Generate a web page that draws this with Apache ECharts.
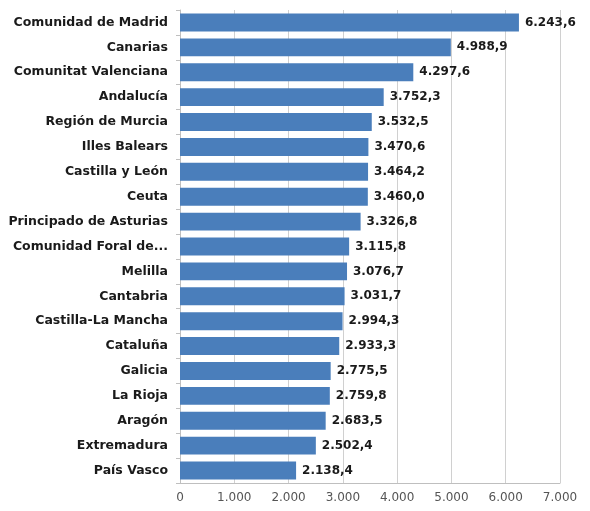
<!DOCTYPE html>
<html><head><meta charset="utf-8">
<script src="https://cdn.jsdelivr.net/npm/echarts@6/dist/echarts.min.js"></script>
<style>html,body{margin:0;padding:0;background:#fff}#c{width:590px;height:511px}</style>
</head><body><div id="c"></div>
<script>
const categories = ["Comunidad de Madrid","Canarias","Comunitat Valenciana","Andalucía","Región de Murcia","Illes Balears","Castilla y León","Ceuta","Principado de Asturias","Comunidad Foral de Navarra","Melilla","Cantabria","Castilla-La Mancha","Cataluña","Galicia","La Rioja","Aragón","Extremadura","País Vasco"];
const values = [6243.6,4988.9,4297.6,3752.3,3532.5,3470.6,3464.2,3460.0,3326.8,3115.8,3076.7,3031.7,2994.3,2933.3,2775.5,2759.8,2683.5,2502.4,2138.4];
const xTicks = [0,1000,2000,3000,4000,5000,6000,7000];

function fmt(v, dec){
  const parts = v.toFixed(dec).split('.');
  parts[0] = parts[0].replace(/\B(?=(\d{3})+(?!\d))/g, '.');
  return parts.join(',');
}
const chart = echarts.init(document.getElementById('c'));
chart.setOption({
  animation:false,
  grid:{left:180,right:30,top:10,bottom:28},
  xAxis:{type:'value',min:xTicks[0],max:xTicks[xTicks.length-1],interval:1000,
    axisLine:{show:true,lineStyle:{color:'#bfbfbf'}},axisTick:{show:false},
    splitLine:{lineStyle:{color:'#d0d0d0'}},
    axisLabel:{color:'#555',fontFamily:'DejaVu Sans',fontSize:12,margin:9,formatter:v=>fmt(v,0)}},
  yAxis:{type:'category',inverse:true,data:categories,
    axisLine:{show:true,lineStyle:{color:'#bfbfbf'}},
    axisTick:{show:true,length:4,lineStyle:{color:'#bfbfbf'}},
    axisLabel:{color:'#1a1a1a',fontFamily:'DejaVu Sans',fontWeight:'bold',fontSize:12.5,margin:12,
      width:163,overflow:'truncate',ellipsis:'...'}},
  series:[{type:'bar',data:values,barCategoryGap:'28%',
    itemStyle:{color:'#4a7ebb'},
    label:{show:true,position:'right',distance:6,color:'#1a1a1a',fontFamily:'DejaVu Sans',fontWeight:'bold',fontSize:12,
      formatter:p=>fmt(p.value,1)}}]
});
</script></body></html>
